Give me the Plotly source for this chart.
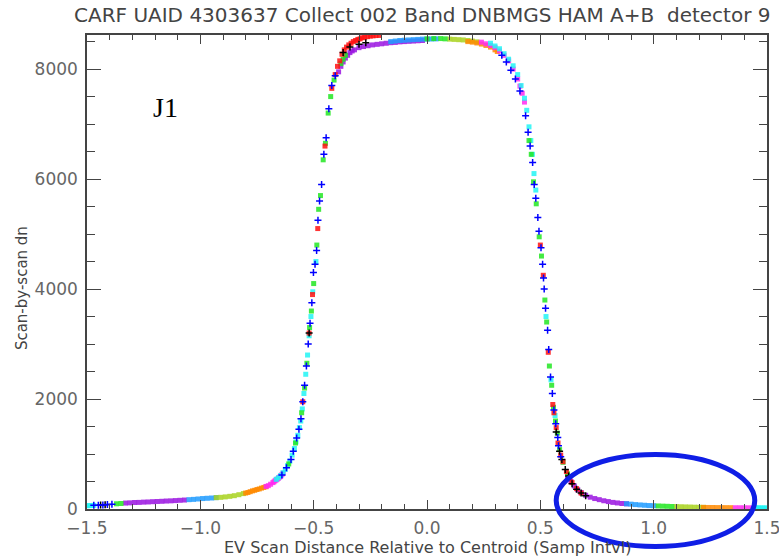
import plotly.graph_objects as go

# ---- data (x: samp intvl, y: dn) ----
red_x = [-0.548, -0.520, -0.505, -0.482, -0.450, -0.420, -0.405, -0.395, -0.385, -0.375, -0.365, -0.355,
         -0.345, -0.335, -0.325, -0.315, -0.305, -0.295, -0.285, -0.275, -0.262, -0.250, -0.238, -0.225,
         -0.210, 0.500, 0.513, 0.535, 0.555, 0.560, 0.570, 0.578, 0.590, 0.600, 0.615, 0.630, 0.640, 0.660, 0.680]
red_y = [1950, 3200, 3900, 5100, 6600, 7650, 7900, 8050, 8150, 8270, 8350, 8400,
         8440, 8470, 8500, 8520, 8540, 8550, 8570, 8580, 8590, 8600, 8605, 8610,
         8612, 4800, 4250, 2850, 1900, 1750, 1480, 1200, 980, 860, 680, 560, 480, 370, 290]

purple_x = [-1.33, -1.31, -1.29, -1.27, -1.25, -1.23, -1.21, -1.19, -1.17, -1.15, -1.13, -1.11, -1.09, -1.07,
            -0.39, -0.38, -0.37, -0.36, -0.35, -0.34, -0.33, -0.32, -0.30, -0.28, -0.26, -0.24, -0.22, -0.20,
            -0.18, -0.16, -0.14, -0.12, -0.10, -0.08, -0.06, -0.04, -0.02,
            0.62, 0.635, 0.65, 0.665, 0.68, 0.70, 0.72, 0.74, 0.76, 0.78, 0.80, 0.82, 0.84, 0.86, 0.88]
purple_y = [108, 112, 118, 120, 125, 128, 133, 137, 140, 145, 148, 153, 158, 163,
            7950, 8050, 8130, 8200, 8250, 8300, 8330, 8350, 8390, 8410, 8425, 8440, 8450, 8460,
            8470, 8480, 8485, 8495, 8500, 8505, 8510, 8515, 8520,
            600, 500, 420, 350, 300, 250, 215, 190, 170, 150, 135, 120, 110, 100, 95]

ltblue_x = [-1.05, -1.03, -1.01, -0.99, -0.97, -0.95, -0.93,
            -0.16, -0.14, -0.12, -0.10, -0.08, -0.06, -0.04, -0.02, 0.00, 0.02, 0.04,
            0.88, 0.90, 0.92, 0.94, 0.96, 0.98, 1.00]
ltblue_y = [170, 175, 182, 190, 195, 200, 207,
            8500, 8510, 8520, 8525, 8530, 8535, 8540, 8545, 8545, 8548, 8550,
            95, 88, 80, 74, 68, 63, 60]

ygreen_x = [-0.93, -0.91, -0.89, -0.87, -0.85, -0.83, -0.81,
            0.10, 0.12, 0.14, 0.16, 0.18, 0.20, 0.22,
            1.10, 1.12, 1.14, 1.16, 1.18, 1.20, 1.22]
ygreen_y = [207, 212, 220, 230, 242, 260, 280,
            8545, 8540, 8535, 8530, 8520, 8510, 8495,
            44, 41, 38, 36, 33, 31, 30]

green_x = [-1.37, -1.35,
           -0.61, -0.58, -0.553, -0.54, -0.53, -0.518, -0.51, -0.50, -0.486, -0.478, -0.47, -0.458,
           -0.448, -0.436, -0.425, -0.41, -0.38, -0.37, -0.36,
           0.00, 0.03, 0.06, 0.08,
           0.45, 0.46, 0.47, 0.482, 0.495, 0.505, 0.52, 0.528, 0.54, 0.55, 0.558, 0.567, 0.575, 0.585,
           0.60, 0.62, 1.02, 1.04, 1.06, 1.08]
green_y = [95, 100,
           820, 1200, 1750, 2200, 2650, 3300, 3600, 4100, 4800, 5450, 5700, 6350,
           6650, 7200, 7500, 7800, 8100, 8180, 8250,
           8550, 8555, 8555, 8550,
           6700, 6450, 5950, 5550, 4950, 4600, 3800, 3400, 2600, 2250, 1850, 1600, 1380, 1080,
           850, 640, 55, 52, 49, 46]

cyan_x = [-1.50, -1.49, -1.48, -1.47,
          -0.665, -0.655, -0.645, -0.635, -0.625, -0.615, -0.605, -0.595, -0.585, -0.578, -0.57,
          -0.563, -0.557, -0.55, -0.543, -0.535, -0.527, -0.52, -0.512, -0.504, -0.49,
          0.28, 0.30, 0.32, 0.34, 0.36, 0.38, 0.40, 0.415, 0.43, 0.44, 0.45, 0.458, 0.465, 0.472, 0.48,
          0.525, 0.547, 0.565,
          1.45, 1.46, 1.47, 1.48, 1.49, 1.50]
cyan_y = [60, 62, 64, 66,
          540, 570, 610, 660, 720, 790, 870, 980, 1100, 1220, 1340,
          1480, 1600, 1820, 2100, 2450, 2800, 3150, 3500, 3950, 4500,
          8470, 8420, 8370, 8280, 8180, 8060, 7900, 7700, 7470, 7250, 6950, 6700, 6450, 6100, 5800,
          3500, 2350, 1700,
          20, 20, 19, 19, 18, 18]

blue_x = [-1.47, -1.45, -1.43, -1.41, -1.39,
          -0.64, -0.62, -0.60, -0.59, -0.575, -0.565, -0.556, -0.548, -0.54, -0.532, -0.524, -0.516,
          -0.508, -0.501, -0.494, -0.487, -0.481, -0.474, -0.465, -0.455, -0.445, -0.433, -0.42, -0.405,
          0.33, 0.35, 0.37, 0.39, 0.41, 0.435, 0.446,
          0.455, 0.466, 0.473, 0.48, 0.489, 0.494, 0.503, 0.51, 0.514, 0.517, 0.523, 0.532, 0.537,
          0.545, 0.553, 0.56, 0.568, 0.577, 0.58, 0.59]
blue_y = [66, 70, 75, 80, 85,
          620, 750, 900, 1050, 1290, 1450, 1640, 1950, 2250, 2600, 3000, 3380,
          3750, 4300, 4450, 4700, 5250, 5600, 5900, 6450, 6750, 7280, 7700, 7880,
          8250, 8130, 7980, 7820, 7600, 7150, 6850,
          6600, 6300, 5900, 5650, 5300, 5050, 4750, 4450, 4200, 4000, 3650, 3250, 2900,
          2400, 2100, 1800, 1550, 1300, 1150, 950]

black_x = [-1.44, -1.42, -0.52, -0.37, -0.34, -0.30, -0.27,
           0.57, 0.585, 0.595, 0.61, 0.625, 0.64, 0.66, 0.68, 0.70]
black_y = [72, 76, 3200, 8300, 8400, 8450, 8480,
           1400, 1050, 900, 720, 600, 460, 360, 290, 240]

orange_x = [-0.80, -0.79, -0.78, -0.77, -0.76, -0.75, -0.74, -0.73, -0.72, -0.71,
            0.18, 0.20, 0.22, 0.24, 0.26, 0.28, 0.30, 0.31,
            1.22, 1.24, 1.26, 1.28, 1.30, 1.32, 1.34]
orange_y = [290, 300, 315, 330, 340, 355, 365, 380, 392, 405,
            8500, 8490, 8475, 8455, 8430, 8400, 8350, 8320,
            29, 28, 27, 26, 25, 25, 24]

magenta_x = [-0.71, -0.70, -0.69, -0.68, -0.675, -0.67, -0.665, -0.66, -0.655, -0.65, -0.645, -0.64, -0.635,
             0.24, 0.26, 0.28, 0.30, 0.32, 0.34, 0.36, 0.38, 0.40, 0.41, 0.42, 0.43,
             1.36, 1.38, 1.40, 1.42, 1.44]
magenta_y = [410, 425, 450, 480, 495, 515, 530, 545, 560, 580, 600, 625, 650,
             8490, 8460, 8430, 8390, 8330, 8250, 8150, 8000, 7820, 7690, 7560, 7400,
             23, 23, 22, 22, 21]

x_ticks = [-1.5, -1.0, -0.5, 0.0, 0.5, 1.0, 1.5]
y_ticks = [0, 2000, 4000, 6000, 8000]

title_text = "CARF UAID 4303637 Collect 002 Band DNBMGS HAM A+B  detector 9"
x_title = "EV Scan Distance Relative to Centroid (Samp Intvl)"
y_title = "Scan-by-scan dn"

series = [
    ("purple", purple_x, purple_y, "#9a14e0", "square"),
    ("ltblue", ltblue_x, ltblue_y, "#1e9bff", "square"),
    ("ygreen", ygreen_x, ygreen_y, "#a8d21e", "square"),
    ("orange", orange_x, orange_y, "#ff8a00", "square"),
    ("magenta", magenta_x, magenta_y, "#ff2cf0", "square"),
    ("cyan", cyan_x, cyan_y, "#22f5f5", "square"),
    ("green", green_x, green_y, "#22e622", "square"),
    ("red", red_x, red_y, "#ff1010", "square"),
    ("black", black_x, black_y, "#000000", "cross-thin"),
    ("blue", blue_x, blue_y, "#0000ff", "cross-thin"),
]

fig = go.Figure()
for name, xs, ys, col, sym in series:
    if sym == "square":
        marker = dict(symbol="square", size=5, color=col, opacity=0.85, line=dict(width=0))
    else:
        marker = dict(symbol="cross-thin", size=5, color=col, line=dict(width=1.5, color=col))
    fig.add_trace(go.Scatter(x=xs, y=ys, mode="markers", name=name, marker=marker,
                             showlegend=False, hoverinfo="skip"))

axis_col = "#444444"
lbl_font = dict(family="DejaVu Sans", size=17, color="#666666")
fig.update_xaxes(range=[-1.5, 1.5], tickvals=x_ticks, tickformat=".1f",
                 ticks="inside", ticklen=9, tickwidth=1.2, tickcolor=axis_col,
                 minor=dict(dtick=0.1, ticks="inside", ticklen=5, tickwidth=1.2, tickcolor=axis_col),
                 showline=True, linecolor=axis_col, linewidth=1.5, mirror="ticks",
                 showgrid=False, zeroline=False, ticklabelstandoff=3, automargin=False,
                 ticklabeloverflow="allow", tickfont=lbl_font)
fig.update_yaxes(range=[0, 8620], tickvals=y_ticks,
                 ticks="inside", ticklen=14, tickwidth=1.2, tickcolor=axis_col,
                 minor=dict(dtick=500, ticks="inside", ticklen=8, tickwidth=1.2, tickcolor=axis_col),
                 showline=True, linecolor=axis_col, linewidth=1.5, mirror="ticks",
                 showgrid=False, zeroline=False, ticklabelstandoff=4, automargin=False,
                 ticklabeloverflow="allow", tickfont=lbl_font)

# axis titles as paper annotations (pixel-matched to reference)
fig.add_annotation(xref="paper", yref="paper", x=0.5, y=-0.081, xanchor="center", yanchor="middle",
                   text=x_title, showarrow=False,
                   font=dict(family="DejaVu Sans", size=16, color="#444444"))
fig.add_annotation(xref="paper", yref="paper", x=-0.0956, y=0.466, xanchor="center", yanchor="middle",
                   text=y_title, showarrow=False, textangle=-90,
                   font=dict(family="DejaVu Sans", size=15, color="#444444"))

fig.add_annotation(xref="paper", yref="paper", x=-0.0216, y=1.042, xanchor="left", yanchor="middle",
                   text=title_text, showarrow=False,
                   font=dict(family="DejaVu Sans", size=20, color="#444444"))
fig.add_annotation(xref="paper", yref="paper", x=0.115, y=0.846, xanchor="center", yanchor="middle",
                   text="J1", showarrow=False,
                   font=dict(family="Liberation Serif", size=28, color="#000000"))
fig.add_shape(type="circle", xref="paper", yref="paper", x0=0.69, x1=0.982, y0=-0.079, y1=0.115,
              line=dict(color="#0f1ee6", width=5))

fig.update_layout(width=779, height=556,
                  margin=dict(l=87, r=12, t=35, b=47, autoexpand=False),
                  plot_bgcolor="white", paper_bgcolor="white")
fig.write_html("out.html", config={"displayModeBar": False},
               post_script="document.body.style.margin='0px';document.body.style.overflow='hidden';")
